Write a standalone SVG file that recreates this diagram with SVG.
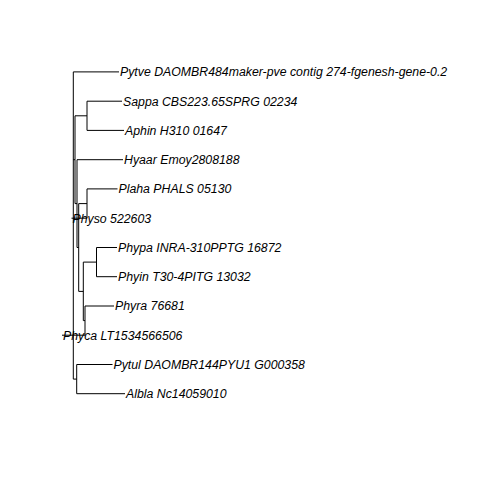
<svg xmlns="http://www.w3.org/2000/svg" width="480" height="480" viewBox="0 0 480 480">
<style>
.e{stroke:#000;stroke-width:1;fill:none}
text{font-family:"Liberation Sans",Arial,Helvetica,sans-serif;font-style:italic;font-size:12.3px;fill:#000}
</style>
<rect width="480" height="480" fill="#fff"/>
<g id="edges" class="e">
<path d="M73.3,71.9V379.1"/>
<path d="M73.3,71.9H119"/>
<path d="M73.3,159.7H75V115.8H87M75,159.7V203.6H77"/>
<path d="M87,101.2V130.4M87,101.2H122M87,130.4H124"/>
<path d="M77,159.7V247.5M77,159.7H123M77,247.5H78.7"/>
<path d="M78.7,203.6V291.4M78.7,203.6H87M78.7,291.4H83.3"/>
<path d="M87,188.9V218.2M87,188.9H117.5M87,218.2H71.5"/>
<path d="M83.3,262.1V320.6M83.3,262.1H96.5M83.3,320.6H85"/>
<path d="M96.5,247.5V276.7M96.5,247.5H117M96.5,276.7H117"/>
<path d="M85,306V335.2M85,306H114M85,335.2H62"/>
<path d="M73.3,379.1H76.7M76.7,364.5V393.7M76.7,364.5H112.5M76.7,393.7H125"/>
</g>
<g id="Pytve"><text x="120" y="76.3">Pytve DAOMBR484maker-pve contig 274-fgenesh-gene-0.2</text></g>
<g id="Sappa"><text x="123" y="105.6">Sappa CBS223.65SPRG 02234</text></g>
<g id="Aphin"><text x="125" y="134.8">Aphin H310 01647</text></g>
<g id="Hyaar"><text x="124" y="164.1">Hyaar Emoy2808188</text></g>
<g id="Plaha"><text x="118.5" y="193.3">Plaha PHALS 05130</text></g>
<g id="Physo"><text x="72.5" y="222.6">Physo 522603</text></g>
<g id="Phypa"><text x="118" y="251.9">Phypa INRA-310PPTG 16872</text></g>
<g id="Phyin"><text x="118" y="281.1">Phyin T30-4PITG 13032</text></g>
<g id="Phyra"><text x="115" y="310.4">Phyra 76681</text></g>
<g id="Phyca"><text x="63" y="339.6">Phyca LT1534566506</text></g>
<g id="Pytul"><text x="113.5" y="368.9">Pytul DAOMBR144PYU1 G000358</text></g>
<g id="Albla"><text x="126" y="398.1">Albla Nc14059010</text></g>
</svg>
